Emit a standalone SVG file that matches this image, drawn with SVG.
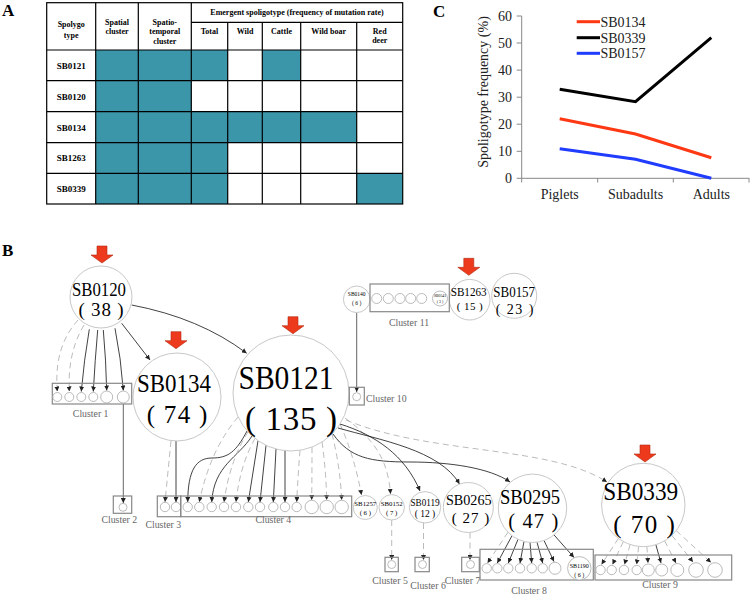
<svg xmlns="http://www.w3.org/2000/svg" width="750" height="596" viewBox="0 0 750 596">
<style>
text{font-family:"Liberation Serif","Times New Roman",serif;fill:#000}
.th{font-size:8px;font-weight:bold;text-anchor:middle}
.tr{font-size:9px;font-weight:bold;text-anchor:middle}
.grid{stroke:#000;stroke-width:1.2;fill:none}
.teal{fill:#3c96aa}
.pl{font-size:17px;font-weight:bold}
.ax{stroke:#888;stroke-width:1;fill:none}
.tk{font-size:14px;text-anchor:end;fill:#222}
.cat{font-size:14px;text-anchor:middle;fill:#222}
.lg{font-size:14px;fill:#222}
.node{fill:#fff;stroke:#c8c8c8;stroke-width:1}
.sc{fill:#fff;stroke:#aaa;stroke-width:0.8}
.box{fill:none;stroke:#888;stroke-width:1.2}
.cl{font-size:9.8px;fill:#666;text-anchor:middle}
.nt{text-anchor:middle}
.sol{fill:none;stroke:#111;stroke-width:0.8;marker-end:url(#ah)}
.dsh{fill:none;stroke:#aaa;stroke-width:0.8;stroke-dasharray:6 4;marker-end:url(#ah)}
.gl{fill:none;stroke:#666;stroke-width:1;marker-end:url(#ah)}
</style>
<defs>
<marker id="ah" viewBox="0 0 10 10" refX="10" refY="5" markerWidth="5" markerHeight="5" markerUnits="userSpaceOnUse" orient="auto"><path d="M0,0 L10,5 L0,10 z" fill="#222"/></marker>
<path id="ra" d="M-5,0 H5 V9 H11 L0,17 L-11,9 H-5 Z" fill="#ee3a1c" stroke="#b02a10" stroke-width="0.6"/>
</defs>

<!-- Panel A -->
<g id="panelA">
<text class="pl" x="2" y="16">A</text>
<rect class="teal" x="95.7" y="50" width="132" height="30.7"/>
<rect class="teal" x="262.3" y="50" width="38.4" height="30.7"/>
<rect class="teal" x="95.7" y="80.7" width="95.6" height="31"/>
<rect class="teal" x="95.7" y="111.7" width="261" height="31"/>
<rect class="teal" x="95.7" y="142.7" width="132" height="30.6"/>
<rect class="teal" x="95.7" y="173.3" width="132" height="30.7"/>
<rect class="teal" x="356.7" y="173.3" width="46" height="30.7"/>
<rect class="grid" x="46.7" y="2.7" width="356" height="201.3"/>
<path class="grid" d="M95.7,2.7V204 M138.3,2.7V204 M191.3,2.7V204 M227.7,22.3V204 M262.3,22.3V204 M300.7,22.3V204 M356.7,22.3V204 M191.3,22.3H402.7 M46.7,50H402.7 M46.7,80.7H402.7 M46.7,111.7H402.7 M46.7,142.7H402.7 M46.7,173.3H402.7"/>
<text class="th" x="71.2" y="27.3">Spolygo</text>
<text class="th" x="71.2" y="37.7">type</text>
<text class="th" x="117" y="25">Spatial</text>
<text class="th" x="117" y="34">cluster</text>
<text class="th" x="164.8" y="25">Spatio-</text>
<text class="th" x="164.8" y="34.3">temporal</text>
<text class="th" x="164.8" y="43.7">cluster</text>
<text class="th" x="297" y="15.3">Emergent spoligotype (frequency of mutation rate)</text>
<text class="th" x="209.5" y="34">Total</text>
<text class="th" x="245" y="34">Wild</text>
<text class="th" x="281.5" y="34">Cattle</text>
<text class="th" x="328.7" y="34">Wild boar</text>
<text class="th" x="379.7" y="34">Red</text>
<text class="th" x="379.7" y="43.3">deer</text>
<text class="tr" x="71.2" y="68.5">SB0121</text>
<text class="tr" x="71.2" y="99.5">SB0120</text>
<text class="tr" x="71.2" y="130.5">SB0134</text>
<text class="tr" x="71.2" y="161.3">SB1263</text>
<text class="tr" x="71.2" y="192">SB0339</text>
</g>

<!-- Panel C -->
<g id="panelC">
<text class="pl" x="433" y="17">C</text>
<path class="ax" d="M521.7,16V178.3H749.3 M516.7,16H521.7 M516.7,43H521.7 M516.7,70.1H521.7 M516.7,97.2H521.7 M516.7,124.2H521.7 M516.7,151.3H521.7 M516.7,178.3H521.7 M521.7,178.3V182.5 M597.7,178.3V182.5 M673.3,178.3V182.5 M749,178.3V182.5"/>
<text class="tk" x="512" y="21">60</text>
<text class="tk" x="512" y="48">50</text>
<text class="tk" x="512" y="75">40</text>
<text class="tk" x="512" y="102">30</text>
<text class="tk" x="512" y="129">20</text>
<text class="tk" x="512" y="156">10</text>
<text class="tk" x="512" y="183">0</text>
<text class="cat" x="559.7" y="199">Piglets</text>
<text class="cat" x="635.5" y="199">Subadults</text>
<text class="cat" x="711.3" y="199">Adults</text>
<text class="cat" transform="translate(487.5,92) rotate(-90)" x="0" y="0">Spoligotype frequency (%)</text>
<polyline points="559.7,89.3 635.5,101.7 711.3,37.7" fill="none" stroke="#000" stroke-width="3"/>
<polyline points="559.7,118.7 635.5,134 711.3,157.7" fill="none" stroke="#ff3814" stroke-width="3"/>
<polyline points="559.7,148.7 635.5,159.3 711.3,178.3" fill="none" stroke="#1f3cff" stroke-width="3"/>
<line x1="576.7" y1="21.7" x2="600" y2="21.7" stroke="#ff3814" stroke-width="3"/>
<line x1="576.7" y1="37.7" x2="600" y2="37.7" stroke="#000" stroke-width="3"/>
<line x1="576.7" y1="53.3" x2="600" y2="53.3" stroke="#1f3cff" stroke-width="3"/>
<text class="lg" x="600.5" y="26.7">SB0134</text>
<text class="lg" x="600.5" y="42.7">SB0339</text>
<text class="lg" x="600.5" y="58.3">SB0157</text>
</g>

<!-- Panel B -->
<text class="pl" x="2" y="256">B</text>

<g id="connectors">
<path class="sol" d="M121.7,323.3 L150,360"/>
<path class="sol" d="M131.7,305 Q200,318 246.7,353.3"/>
<path class="sol" d="M89.3,329.3 Q84,360 81.3,391.5"/>
<path class="sol" d="M97.7,330 Q95,360 93.3,391.5"/>
<path class="sol" d="M103.3,330 Q106,360 106.7,390.5"/>
<path class="sol" d="M115,328.3 Q121,358 123.3,390.5"/>
<path class="dsh" d="M78,320 C60,340 55,365 57.3,391.5"/>
<path class="dsh" d="M84,325 C72,345 68,368 69.3,391.5"/>
<path class="gl" d="M123.3,404 L123.3,503"/>
<path class="sol" d="M176,441 L176,502"/>
<path class="dsh" d="M171,441 L165,502"/>
<path class="sol" d="M247,431 C236,452 228,458 212,458 C196,458 188,470 187.7,502"/>
<path class="sol" d="M252,436 C238,458 214,465 211.7,502"/>
<path class="sol" d="M258,440.7 L248.3,502"/>
<path class="sol" d="M266,445.3 L260,502"/>
<path class="sol" d="M276,449 L273.3,502"/>
<path class="sol" d="M285,450.7 L285,502"/>
<path class="dsh" d="M238,417 Q210,450 199.3,502"/>
<path class="dsh" d="M248,431.9 Q230,460 224,502"/>
<path class="dsh" d="M255,438.5 Q240,465 236,502"/>
<path class="dsh" d="M300,450.3 Q298,475 296.7,502"/>
<path class="dsh" d="M312,447.1 Q312,475 311.7,500"/>
<path class="dsh" d="M322,442 Q326,470 326.7,500"/>
<path class="dsh" d="M332,434 Q340,465 341.7,500"/>
<path class="dsh" d="M340,424 Q354,455 361.5,495"/>
<path class="dsh" d="M345,418 C375,440 388,460 390.5,494"/>
<path class="sol" d="M340,424 C375,435 405,455 420,491"/>
<path class="sol" d="M338,428 C380,440 440,450 459.5,484"/>
<path class="sol" d="M333,434 C350,458 370,462 410,462 C450,462 490,468 510,482"/>
<path class="dsh" d="M346,420 C430,455 550,445 607,482"/>
<path class="dsh" d="M391.7,520 L391.7,560"/>
<path class="dsh" d="M423.5,523 L423.5,560"/>
<path class="dsh" d="M470,532.5 L470,560"/>
<path class="dsh" d="M508,532.2 L487.5,563"/>
<path class="sol" d="M512,535.7 L497.3,563"/>
<path class="sol" d="M518,539.3 L508.3,563"/>
<path class="sol" d="M524,541.4 L520,563"/>
<path class="sol" d="M530,542.4 L531.7,563"/>
<path class="sol" d="M537,542.2 L542.7,563"/>
<path class="sol" d="M544,540.5 L554,561.5"/>
<path class="sol" d="M554,534.9 L574,557.5"/>
<path class="dsh" d="M618.4,538.4 L601.5,564.5"/>
<path class="dsh" d="M623.3,541.7 L612.5,564.5"/>
<path class="dsh" d="M630.1,544.6 L624.5,564.5"/>
<path class="dsh" d="M638.6,546.4 L636.7,564.5"/>
<path class="dsh" d="M646.9,546.5 L648,563"/>
<path class="sol" d="M655.9,544.8 L661,563"/>
<path class="dsh" d="M664.6,540.8 L676,563"/>
<path class="dsh" d="M671.9,535.4 L693,562"/>
<path class="dsh" d="M676.2,530.6 L711,562.5"/>
<path class="gl" d="M356.7,312.6 L356.7,392"/>
</g>

<g id="SB0120"><use href="#ra" x="102" y="246"/><circle class="node" cx="101" cy="297" r="31"/><text class="nt" x="99" y="296" font-size="19" textLength="54" lengthAdjust="spacingAndGlyphs">SB0120</text><text class="nt" x="101" y="316" font-size="19" textLength="45" lengthAdjust="spacing">( 38 )</text></g>
<g id="SB0134"><use href="#ra" x="176" y="331.7"/><circle class="node" cx="177" cy="397" r="44"/><text class="nt" x="174" y="392" font-size="25" textLength="74" lengthAdjust="spacingAndGlyphs">SB0134</text><text class="nt" x="177" y="422.7" font-size="25" textLength="60.6" lengthAdjust="spacing">( 74 )</text></g>
<g id="SB0121"><use href="#ra" x="293" y="316.7"/><circle class="node" cx="291" cy="393" r="58"/><text class="nt" x="286" y="389" font-size="34" textLength="95" lengthAdjust="spacingAndGlyphs">SB0121</text><text class="nt" x="291" y="430" font-size="33" textLength="92" lengthAdjust="spacing">( 135 )</text></g>
<g id="SB0140"><circle class="node" cx="356.7" cy="299.3" r="13.3"/><text class="nt" x="356.7" y="296" font-size="5.5">SB0140</text><text class="nt" x="356.7" y="305" font-size="5.5">( 6 )</text></g>
<g id="SB1263"><use href="#ra" x="468.8" y="258.3"/><circle class="node" cx="469.7" cy="299.7" r="20.3"/><text class="nt" x="468.7" y="296" font-size="12" textLength="36" lengthAdjust="spacingAndGlyphs">SB1263</text><text class="nt" x="469.7" y="309.5" font-size="11" textLength="26" lengthAdjust="spacing">( 15 )</text></g>
<g id="SB0157"><circle class="node" cx="514.2" cy="295.8" r="22.5"/><text class="nt" x="514.2" y="297.3" font-size="14" textLength="41.7" lengthAdjust="spacingAndGlyphs">SB0157</text><text class="nt" x="514.5" y="314" font-size="14" textLength="37.7" lengthAdjust="spacing">( 23 )</text></g>
<g id="SB1257"><circle class="node" cx="365.3" cy="507.5" r="12"/><text class="nt" x="365.3" y="506" font-size="6.8">SB1257</text><text class="nt" x="365.3" y="515" font-size="6.8">( 6 )</text></g>
<g id="SB0152"><circle class="node" cx="391.7" cy="507.3" r="12.7"/><text class="nt" x="391.7" y="506" font-size="6.8">SB0152</text><text class="nt" x="391.7" y="515" font-size="6.8">( 7 )</text></g>
<g id="SB0119"><circle class="node" cx="425" cy="507.3" r="15.7"/><text class="nt" x="425" y="505.7" font-size="9.5" textLength="29" lengthAdjust="spacingAndGlyphs">SB0119</text><text class="nt" x="425" y="517.3" font-size="9.5">( 12 )</text></g>
<g id="SB0265"><circle class="node" cx="468.3" cy="507.5" r="25"/><text class="nt" x="468.8" y="505" font-size="15" textLength="45.7" lengthAdjust="spacingAndGlyphs">SB0265</text><text class="nt" x="470.5" y="522.7" font-size="15" textLength="37.7" lengthAdjust="spacing">( 27 )</text></g>
<g id="SB0295"><circle class="node" cx="532.5" cy="508.3" r="34.2"/><text class="nt" x="530" y="504" font-size="20.5" textLength="60" lengthAdjust="spacingAndGlyphs">SB0295</text><text class="nt" x="533.3" y="528.3" font-size="20.5" textLength="50" lengthAdjust="spacing">( 47 )</text></g>
<g id="SB0339"><use href="#ra" x="645" y="445"/><circle class="node" cx="643.3" cy="505" r="41.7"/><text class="nt" x="640.7" y="500" font-size="25" textLength="75" lengthAdjust="spacingAndGlyphs">SB0339</text><text class="nt" x="644" y="533" font-size="25" textLength="61.7" lengthAdjust="spacing">( 70 )</text></g>

<g id="cluster1"><rect class="box" x="52.3" y="383.3" width="79.4" height="20.7"/>
<circle class="sc" cx="57.3" cy="397" r="4.5"/><circle class="sc" cx="69.3" cy="397" r="4.5"/><circle class="sc" cx="81.3" cy="397" r="4.5"/><circle class="sc" cx="93.3" cy="397" r="4.5"/><circle class="sc" cx="106.7" cy="397" r="6"/><circle class="sc" cx="123.3" cy="397" r="6"/>
<text class="cl" x="90.7" y="417.3">Cluster 1</text></g>
<g id="cluster2"><rect class="box" x="113.3" y="496" width="18.4" height="17.3"/><circle class="sc" cx="123" cy="507.3" r="4"/><text class="cl" x="119.3" y="522.7">Cluster 2</text></g>
<g id="cluster3"><rect class="box" x="157.3" y="496" width="23.4" height="20.7"/><circle class="sc" cx="165" cy="507" r="4.7"/><circle class="sc" cx="176" cy="507" r="4.7"/><text class="cl" x="163.3" y="528.3">Cluster 3</text></g>
<g id="cluster4"><rect class="box" x="180.7" y="496" width="171" height="20.7"/>
<circle class="sc" cx="187.7" cy="507" r="4.7"/><circle class="sc" cx="199.3" cy="507" r="4.7"/><circle class="sc" cx="211.7" cy="507" r="4.7"/><circle class="sc" cx="224" cy="507" r="4.7"/><circle class="sc" cx="236" cy="507" r="4.7"/><circle class="sc" cx="248.3" cy="507" r="4.7"/><circle class="sc" cx="260" cy="507" r="4.7"/><circle class="sc" cx="273.3" cy="507" r="4.7"/><circle class="sc" cx="285" cy="507" r="4.7"/><circle class="sc" cx="296.7" cy="507" r="4.7"/><circle class="sc" cx="311.7" cy="507" r="6.7"/><circle class="sc" cx="326.7" cy="507" r="6.7"/><circle class="sc" cx="341.7" cy="507" r="6.7"/>
<text class="cl" x="273.3" y="522.7">Cluster 4</text></g>
<g id="cluster5"><rect class="box" x="385" y="557.3" width="13.3" height="14.4"/><circle class="sc" cx="391.7" cy="564.5" r="4"/><text class="cl" x="390" y="583.5">Cluster 5</text></g>
<g id="cluster6"><rect class="box" x="415" y="557.3" width="14.3" height="14.4"/><circle class="sc" cx="422.5" cy="564.5" r="4"/><text class="cl" x="428" y="589">Cluster 6</text></g>
<g id="cluster7"><rect class="box" x="461.7" y="557.3" width="17.6" height="14.4"/><circle class="sc" cx="470.5" cy="564.5" r="4"/><text class="cl" x="462.5" y="584.3">Cluster 7</text></g>
<g id="cluster8"><rect class="box" x="480" y="549.3" width="113.3" height="30.7"/>
<circle class="sc" cx="486.7" cy="568.3" r="4.7"/><circle class="sc" cx="497.3" cy="568.3" r="4.7"/><circle class="sc" cx="508.3" cy="568.3" r="4.7"/><circle class="sc" cx="520" cy="568.3" r="4.7"/><circle class="sc" cx="531.7" cy="568.3" r="4.7"/><circle class="sc" cx="542.7" cy="568.3" r="4.7"/><circle class="sc" cx="555" cy="568.3" r="6"/><circle class="sc" cx="579.3" cy="568.3" r="11.7"/>
<text class="nt" x="579.3" y="567.5" font-size="6" fill="#444">SB1190</text><text class="nt" x="579.3" y="576.5" font-size="6" fill="#444">( 6 )</text>
<text class="cl" x="529" y="594">Cluster 8</text></g>
<g id="cluster9"><rect class="box" x="595" y="555" width="136.7" height="25"/>
<circle class="sc" cx="600.5" cy="570" r="4.7"/><circle class="sc" cx="611.7" cy="570" r="4.7"/><circle class="sc" cx="624" cy="570" r="4.7"/><circle class="sc" cx="636.7" cy="570" r="4.7"/><circle class="sc" cx="648.3" cy="570" r="6"/><circle class="sc" cx="661.7" cy="570" r="6"/><circle class="sc" cx="677.3" cy="570" r="6.5"/><circle class="sc" cx="696" cy="570" r="7.3"/><circle class="sc" cx="715" cy="570" r="7.3"/>
<text class="cl" x="660" y="588.3">Cluster 9</text></g>
<g id="cluster10"><rect class="box" x="349.3" y="387.3" width="15" height="17.7"/><circle class="sc" cx="356.7" cy="396.7" r="4"/><text class="cl" x="366" y="402" style="text-anchor:start">Cluster 10</text></g>
<g id="cluster11"><rect class="box" x="370" y="284" width="79.3" height="27.7"/>
<circle class="sc" cx="376.7" cy="298.5" r="5"/><circle class="sc" cx="388.3" cy="298.5" r="5"/><circle class="sc" cx="400" cy="298.5" r="5"/><circle class="sc" cx="410.7" cy="298.5" r="5"/><circle class="sc" cx="421.7" cy="298.5" r="5"/><circle class="sc" cx="440" cy="298.5" r="7.5"/>
<text class="nt" x="440" y="297" font-size="3.8" fill="#555">SB0541</text><text class="nt" x="440" y="302.5" font-size="3.8" fill="#555">( 3 )</text>
<text class="cl" x="409" y="326">Cluster 11</text></g>
</svg>
